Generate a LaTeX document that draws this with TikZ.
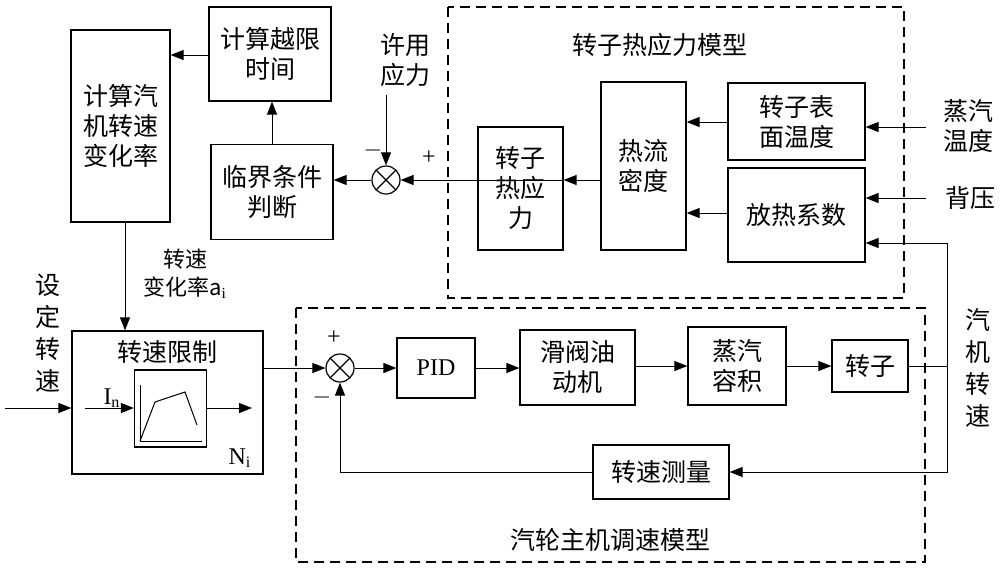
\documentclass[tikz,border=0pt]{standalone}
\usepackage{fontspec}
\setmainfont{Liberation Serif}
\newfontfamily\cjk{Noto Sans CJK SC}
\usetikzlibrary{arrows.meta,calc}
\begin{document}
\begin{tikzpicture}[x=0.5pt,y=-0.5pt,
  font=\cjk\fontsize{12.5}{15}\selectfont,
  box/.style={draw,line width=0.6pt,inner sep=0pt,align=center},
  arr/.style={-{Triangle[length=6.5pt,width=5pt]},line width=0.5pt},
  ln/.style={line width=0.5pt},
  vt/.style={align=center,inner sep=0pt,font=\cjk\fontsize{12.5}{16}\selectfont},
  sumj/.style={draw,circle,minimum size=14pt,inner sep=0pt,line width=0.6pt,
    path picture={\draw[line width=0.6pt] (path picture bounding box.south west)--(path picture bounding box.north east)
    (path picture bounding box.north west)--(path picture bounding box.south east);}},
  dbox/.style={dashed,line width=1pt,dash pattern=on 5pt off 3pt}]
\useasboundingbox (0,0) rectangle (1000,584);
% dashed boxes
\draw[dbox] (448,7) rectangle (904,298);
\draw[dbox] (296,308) rectangle (925,562);
\node at (660,45) {转子热应力模型};
\node at (610,540) {汽轮主机调速模型};
% boxes
\node[box,minimum width=49.5pt,minimum height=96pt] (calc) at (120.5,126) {计算汽\\机转速\\变化率};
\node[box,minimum width=61pt,minimum height=47pt] (yue) at (270,54) {计算越限\\时间};
\node[box,minimum width=61pt,minimum height=47.5pt] (lin) at (272,192) {临界条件\\判断};
\node[sumj] (j1) at (386,180) {};
\node[box,minimum width=42.5pt,minimum height=61.5pt] (rs) at (520.5,188.5) {转子\\热应\\力};
\node[box,minimum width=42.5pt,minimum height=84pt] (hl) at (643.5,166) {热流\\密度};
\node[box,minimum width=68.5pt,minimum height=38.5pt] (bm) at (796.5,121.5) {转子表\\面温度};
\node[box,minimum width=68.5pt,minimum height=47pt] (fr) at (796.5,215) {放热系数};
\node[sumj] (j2) at (340,368) {};
\node[box,minimum width=39pt,minimum height=30pt,font=\rmfamily\fontsize{12}{14}\selectfont] (pid) at (436,368) {PID};
\node[box,minimum width=57.5pt,minimum height=37.5pt] (hf) at (577.5,367.5) {滑阀油\\动机};
\node[box,minimum width=49pt,minimum height=39pt] (zq) at (737,366) {蒸汽\\容积};
\node[box,minimum width=38pt,minimum height=26pt] (zz) at (870,366) {转子};
\node[box,minimum width=68pt,minimum height=27pt] (cl) at (661,472) {转速测量};
\node[box,minimum width=95.5pt,minimum height=71.5pt] (xz) at (167.5,402.5) {};
\node at (167.5,352) {转速限制};
\node[box,minimum width=36pt,minimum height=38.5pt] (gr) at (170.5,408.5) {};
\draw[ln] (140,385)--(140,441)--(202,441);
\draw[ln] (140,441)--(155,402)--(185,392)--(197,425);
% texts
\node[align=center] at (405,60) {许用\\应力};
\node[vt] at (48,333) {设\\定\\转\\速};
\node[align=center,font=\cjk\fontsize{11}{14}\selectfont] at (185,274) {转速\\变化率a\textsubscript{\rmfamily i}};
\node[align=center,inner sep=0pt] at (968,126) {蒸汽\\温度};
\node[inner sep=0pt] at (970,198) {背压};
\node[vt] at (978,368) {汽\\机\\转\\速};
\node[font=\rmfamily\fontsize{12}{14}\selectfont] at (112,398) {I\textsubscript{n}};
\node[font=\rmfamily\fontsize{12}{14}\selectfont] at (240,458) {N\textsubscript{i}};
\node[font=\rmfamily\fontsize{12}{14}\selectfont] at (373,150) {$-$};
\node[font=\rmfamily\fontsize{12}{14}\selectfont] at (429,158) {+};
\node[font=\rmfamily\fontsize{12}{14}\selectfont] at (334,338) {+};
\node[font=\rmfamily\fontsize{12}{14}\selectfont] at (322,397) {$-$};
% coordinates
\coordinate (in0) at (5,408);
\coordinate (ay) at (386,95);
\coordinate (st) at (926,127);
\coordinate (bp) at (926,198);
\coordinate (tn) at (947,366);
% connectors
\draw[arr] (calc.south -| 125,0) -- (xz.north -| 125,0);
\draw[arr] (yue.west |- 0,55) -- (calc.east |- 0,55);
\draw[arr] (lin.north) -- (lin.north |- yue.south);
\draw[arr] (j1.west) -- (lin.east |- j1.west);
\draw[arr] (rs.east |- j1.east) -- (j1.east);
\draw[arr] (ay) -- (j1.north);
\draw[arr] (hl.west |- 0,180) -- (rs.east |- 0,180);
\draw[arr] (bm.west |- 0,122) -- (hl.east |- 0,122);
\draw[arr] (fr.west |- 0,213) -- (hl.east |- 0,213);
\draw[arr] (st) -- (bm.east |- st);
\draw[arr] (bp) -- (fr.east |- bp);
\draw[ln] (zz.east) -- (tn);
\draw[arr] (tn) -- (947,243) -- (fr.east |- 0,243);
\draw[arr] (tn) -- (947,472) -- (cl.east);
\draw[arr] (cl.west) -- (j2.south |- cl.west) -- (j2.south);
\draw[arr] (xz.east |- j2.west) -- (j2.west);
\draw[arr] (j2.east) -- (pid.west);
\draw[arr] (pid.east) -- (hf.west |- pid.east);
\draw[arr] (hf.east |- zq.west) -- (zq.west);
\draw[arr] (zq.east) -- (zz.west);
\draw[arr] (in0) -- (xz.west |- in0);
\draw[arr] (85,408) -- (gr.west |- 0,408);
\draw[arr] (gr.east |- 0,408) -- (252,408);
\end{tikzpicture}
\end{document}
